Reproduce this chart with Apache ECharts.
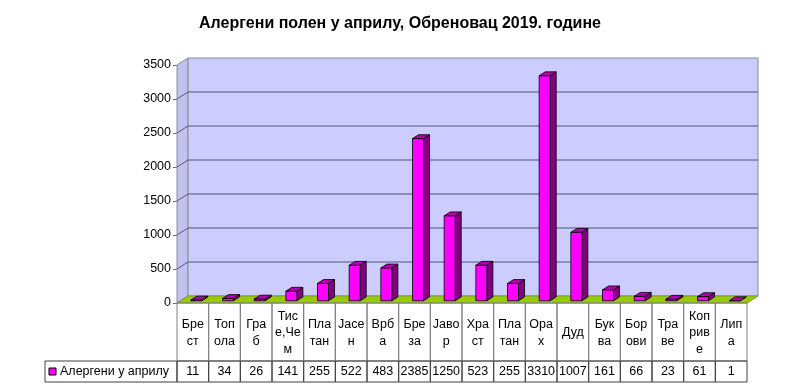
<!DOCTYPE html>
<html><head><meta charset="utf-8">
<script src="https://cdn.jsdelivr.net/npm/echarts@6/dist/echarts.min.js"></script>
<style>html,body{margin:0;padding:0;background:#fff}#c{width:800px;height:391px}</style>
</head><body><div id="c"></div>
<script>
const chartTitle = 'Алергени полен у априлу, Обреновац 2019. године';
const seriesName = 'Алергени у априлу';
const categories = ['Брест','Топола','Граб','Тисе,Чем','Платан','Јасен','Врба','Бреза','Јавор','Храст','Платан','Орах','Дуд','Буква','Борови','Траве','Коприве','Липа'];
const categoryLabels = ['Бре\nст','Топ\nола','Гра\nб','Тис\nе,Че\nм','Пла\nтан','Јасе\nн','Врб\nа','Бре\nза','Јаво\nр','Хра\nст','Пла\nтан','Ора\nх','Дуд','Бук\nва','Бор\nови','Тра\nве','Коп\nрив\nе','Лип\nа'];
const values = [11,34,26,141,255,522,483,2385,1250,523,255,3310,1007,161,66,23,61,1];
const yTicks = [0,500,1000,1500,2000,2500,3000,3500];

const FONT = '"Liberation Sans", Arial, sans-serif';
const DX = 11, DY = -7;          // 3D depth offset
const CAT_ROW = 58, VAL_ROW = 21; // table row heights
const LEGEND_LEFT = 45;
const yMax = yTicks[yTicks.length - 1];

const chart = echarts.init(document.getElementById('c'), null, {renderer: 'canvas'});

function renderFrame(params, api) {
  if (params.dataIndex !== 0) return;
  const bw = api.size([1, 0])[0];
  const p0 = api.coord([0, 0]);
  const xL = p0[0] - bw / 2;
  const xR = api.coord([categories.length - 1, 0])[0] + bw / 2;
  const y0 = p0[1];
  const yT = api.coord([0, yMax])[1];
  const ch = [];
  ch.push({type: 'polygon', shape: {points: [[xL, yT], [xL + DX, yT + DY], [xL + DX, y0 + DY], [xL, y0]]},
    style: {fill: '#C2C2F2', stroke: '#8A8A9A', lineWidth: 1}});
  ch.push({type: 'rect', shape: {x: xL + DX, y: yT + DY, width: xR - xL, height: y0 - yT},
    style: {fill: '#CCCCFF', stroke: '#8A8A9A', lineWidth: 1}});
  yTicks.forEach(t => {
    if (t === 0 || t === yMax) return;
    const y = api.coord([0, t])[1];
    ch.push({type: 'polyline', shape: {points: [[xL, y], [xL + DX, y + DY], [xR + DX, y + DY]]},
      style: {stroke: '#545470', lineWidth: 1, fill: null}});
  });
  ch.push({type: 'polygon', shape: {points: [[xL, y0], [xR, y0], [xR + DX, y0 + DY], [xL + DX, y0 + DY]]},
    style: {fill: '#99CC00', stroke: '#7A9A30', lineWidth: 1}});
  // legend cell of data table
  const yv = y0 + CAT_ROW;
  ch.push({type: 'rect', shape: {x: LEGEND_LEFT, y: yv, width: xL - LEGEND_LEFT, height: VAL_ROW},
    style: {fill: '#fff', stroke: '#404040', lineWidth: 1}});
  ch.push({type: 'rect', shape: {x: LEGEND_LEFT + 4, y: yv + 7, width: 7, height: 7},
    style: {fill: '#FF00FF', stroke: '#000', lineWidth: 1}});
  ch.push({type: 'text', style: {x: LEGEND_LEFT + 15, y: yv + VAL_ROW / 2 + 0.5, text: seriesName,
    font: '12.5px ' + FONT, fill: '#000', verticalAlign: 'middle', align: 'left'}});
  return {type: 'group', children: ch};
}

function renderBar(params, api) {
  const i = api.value(0), v = api.value(1);
  const top = api.coord([i, v]);
  const base = api.coord([i, 0]);
  const hw = 5.5, sh = 3.5;
  const ox = DX * 0.32, oy = DY * 0.32;
  const dx = DX * 0.55, dy = DY * 0.55;
  const x1 = top[0] - hw + sh, x2 = top[0] + hw + sh;
  const yt = top[1] + oy, yb = base[1] + oy;
  const st = {stroke: '#000', lineWidth: 0.8};
  return {type: 'group', children: [
    {type: 'polygon', shape: {points: [[x2, yt], [x2 + dx, yt + dy], [x2 + dx, yb + dy], [x2, yb]]},
      style: Object.assign({fill: '#800080'}, st)},
    {type: 'rect', shape: {x: x1, y: yt, width: x2 - x1, height: yb - yt},
      style: Object.assign({fill: '#FF00FF'}, st)},
    {type: 'polygon', shape: {points: [[x1, yt], [x2, yt], [x2 + dx, yt + dy], [x1 + dx, yt + dy]]},
      style: Object.assign({fill: '#B000B0'}, st)}
  ]};
}

function renderTable(params, api) {
  const i = api.value(0), v = api.value(1);
  const p = api.coord([i, 0]);
  const bw = api.size([1, 0])[0];
  const x = p[0] - bw / 2, y0 = p[1];
  return {type: 'group', children: [
    {type: 'rect', shape: {x: x, y: y0, width: bw, height: CAT_ROW},
      style: {fill: null, stroke: '#808080', lineWidth: 1}},
    {type: 'rect', shape: {x: x, y: y0 + CAT_ROW, width: bw, height: VAL_ROW},
      style: {fill: null, stroke: '#404040', lineWidth: 1}},
    {type: 'text', style: {x: p[0], y: y0 + CAT_ROW + VAL_ROW / 2 + 0.5, text: String(v),
      font: '12.5px ' + FONT, fill: '#000', align: 'center', verticalAlign: 'middle'}}
  ]};
}

const idxData = values.map((v, i) => [i, v]);

chart.setOption({
  animation: false,
  backgroundColor: '#fff',
  title: {text: chartTitle, left: 'center', top: 11,
    textStyle: {fontFamily: FONT, fontSize: 16, fontWeight: 'bold', color: '#000'}},
  grid: {left: 177, right: 53, top: 65, bottom: 88, outerBoundsMode: 'none', containLabel: false},
  xAxis: {type: 'category', data: categoryLabels, boundaryGap: true,
    axisLine: {show: false}, axisTick: {show: false}, splitLine: {show: false},
    axisLabel: {interval: 0, margin: 30, verticalAlign: 'middle', lineHeight: 16.5,
      fontFamily: FONT, fontSize: 12.5, color: '#000'}},
  yAxis: {type: 'value', min: 0, max: yMax, interval: 500,
    axisLine: {show: true, lineStyle: {color: '#707070'}},
    axisTick: {show: true, length: 4, lineStyle: {color: '#707070'}},
    splitLine: {show: false},
    axisLabel: {margin: 6, fontFamily: FONT, fontSize: 12.5, color: '#000',
      formatter: v => String(v)}},
  series: [
    {type: 'custom', name: 'frame', renderItem: renderFrame, data: [[0, 0]], z: 1, clip: false, silent: true},
    {type: 'custom', name: seriesName, renderItem: renderBar, data: idxData, z: 3, clip: false},
    {type: 'custom', name: 'table', renderItem: renderTable, data: idxData, z: 2, clip: false, silent: true}
  ]
});
</script></body></html>
